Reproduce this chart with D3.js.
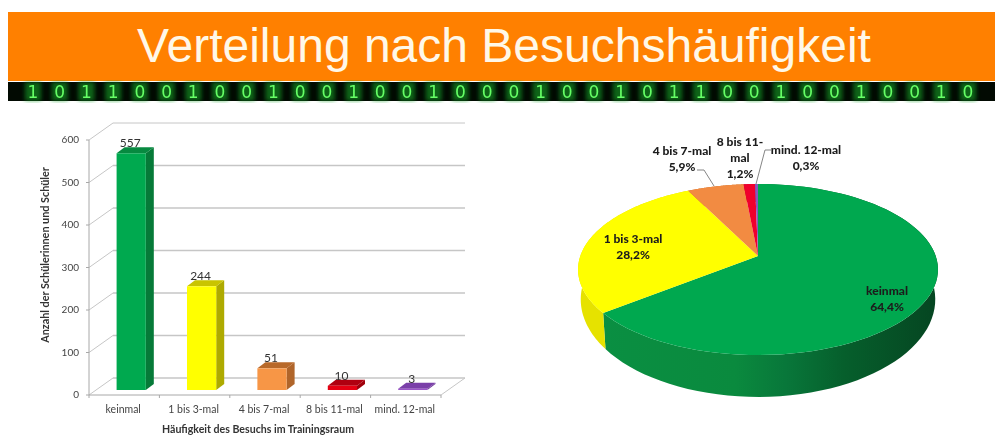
<!DOCTYPE html>
<html><head><meta charset="utf-8">
<script src="https://cdn.jsdelivr.net/npm/d3@7"></script>
<style>
html,body{margin:0;padding:0;background:#fff;overflow:hidden}
svg{display:block;filter:blur(.7px)}
</style></head><body>
<svg id="c" width="995" height="435"></svg>
<script>
const titleText = "Verteilung nach Besuchshäufigkeit";
const binaryDigits = [1,0,1,1,0,0,1,0,0,1,0,0,1,0,0,1,0,0,0,1,0,0,1,0,1,1,0,0,1,0,0,1,0,0,1,0];
const categories = ["keinmal","1 bis 3-mal","4 bis 7-mal","8 bis 11-mal","mind. 12-mal"];
const counts = [557,244,51,10,3];
const shares = [64.4,28.2,5.9,1.2,0.3];
const shareLabels = ["64,4%","28,2%","5,9%","1,2%","0,3%"];
const yTicks = [0,100,200,300,400,500,600];
const yAxisTitle = "Anzahl der Schülerinnen und Schüler";
const xAxisTitle = "Häufigkeit des Besuchs im Trainingsraum";

const frontColors = ["#00a94f","#ffff00","#f79646","#e60012","#9b55c8"];
const topColors   = ["#078a40","#c9c400","#b8692a","#b00010","#7a3fa8"];
const sideColors  = ["#067a38","#aeaa00","#b0652a","#a0000c","#6f3a9a"];
const pieColors   = ["#00a84f","#ffff00","#f28b42","#f0002c","#8a55c0"];

const svg = d3.select("#c");
const defs = svg.append("defs");
const font = "Lato, 'Open Sans', sans-serif";

/* banner */
svg.append("rect").attr("x",8).attr("y",12).attr("width",987).attr("height",69).attr("fill","#ff8000");
svg.append("text").attr("x",504).attr("y",62).attr("text-anchor","middle")
  .attr("font-family","'Liberation Sans',Arial,sans-serif").attr("font-size",48)
  .attr("fill","#fff8e8").text(titleText);
svg.append("rect").attr("x",8).attr("y",82).attr("width",987).attr("height",19).attr("fill","#020a02");
const xDigit = d3.scaleLinear().domain([0,binaryDigits.length-1]).range([33,968]);
const glow = defs.append("filter").attr("id","glow").attr("x","-60%").attr("width","220%");
glow.append("feGaussianBlur").attr("stdDeviation",2.2);
svg.append("g").selectAll("rect").data(binaryDigits).join("rect")
  .attr("x",(d,i)=>xDigit(i)-8).attr("y",82).attr("width",16).attr("height",19)
  .attr("fill","#12a028").attr("opacity",.6).attr("filter","url(#glow)");
svg.append("g").selectAll("text").data(binaryDigits).join("text")
  .attr("x",(d,i)=>xDigit(i)).attr("y",97.5).attr("text-anchor","middle")
  .attr("font-family","'DejaVu Sans',sans-serif").attr("font-size",17)
  .attr("fill","#66ff66").text(d=>d);

/* 3D column chart */
const wall = {dx:24, dy:-17};
const barDepth = {dx:8, dy:-6};
const barInset = {dx:7, dy:-5};
const y = d3.scaleLinear().domain([0,600]).range([395,140]);
const x = d3.scaleBand().domain(categories).range([89,441]).paddingInner(.585).paddingOuter(.2925);
const xOuter = d3.scaleBand().domain(categories).range([89,441]);
const chart = svg.append("g");
const gridCol = "#c6c6c6";

chart.selectAll(".grid").data(yTicks).join("line")
  .attr("x1",xOuter.range()[0]+wall.dx).attr("x2",xOuter.range()[1]+wall.dx)
  .attr("y1",d=>y(d)+wall.dy).attr("y2",d=>y(d)+wall.dy)
  .attr("stroke",gridCol).attr("stroke-width",d=>d===600?1:1.4);
chart.selectAll(".diag").data(yTicks).join("line")
  .attr("x1",89).attr("x2",89+wall.dx)
  .attr("y1",d=>y(d)).attr("y2",d=>y(d)+wall.dy)
  .attr("stroke",gridCol);
chart.append("line").attr("x1",89).attr("x2",89).attr("y1",y(600)).attr("y2",y(0)).attr("stroke","#a8a8a8");
chart.append("line").attr("x1",89).attr("x2",441).attr("y1",y(0)).attr("y2",y(0)).attr("stroke","#a8a8a8");
chart.append("line").attr("x1",441).attr("x2",441+wall.dx).attr("y1",y(0)).attr("y2",y(0)+wall.dy).attr("stroke",gridCol);
chart.selectAll(".ytick").data(yTicks).join("line")
  .attr("x1",86).attr("x2",89).attr("y1",d=>y(d)).attr("y2",d=>y(d)).attr("stroke","#a8a8a8");
chart.selectAll(".xtick").data(d3.range(categories.length+1)).join("line")
  .attr("x1",i=>89+i*xOuter.step()).attr("x2",i=>89+i*xOuter.step())
  .attr("y1",395).attr("y2",398).attr("stroke","#a8a8a8");
chart.selectAll(".ylab").data(yTicks).join("text")
  .attr("x",79).attr("y",d=>y(d)+3).attr("text-anchor","end")
  .attr("font-family",font).attr("font-size",10).attr("fill","#444").text(d=>d);
chart.selectAll(".xlab").data(categories).join("text")
  .attr("x",d=>xOuter(d)+xOuter.bandwidth()/2-1).attr("y",413).attr("text-anchor","middle")
  .attr("font-family",font).attr("font-size",10.5).attr("fill","#444").text(d=>d);
chart.append("text").attr("x",258).attr("y",433).attr("text-anchor","middle")
  .attr("font-family",font).attr("font-size",10.6).attr("font-weight",700).attr("fill","#333").text(xAxisTitle);
chart.append("text").attr("transform","translate(49,255) rotate(-90)").attr("text-anchor","middle")
  .attr("font-family",font).attr("font-size",10.8).attr("font-weight",700).attr("fill","#333").text(yAxisTitle);

const bars = chart.selectAll(".bar").data(counts.map((v,i)=>({v,i,c:categories[i]}))).join("g");
bars.each(function(d){
  const g = d3.select(this);
  const x0 = x(d.c)+barInset.dx, x1 = x0+x.bandwidth();
  const yt = y(d.v)+barInset.dy, yb = y(0)+barInset.dy;
  const D = barDepth;
  const poly = pts => pts.map(p=>p.join(",")).join(" ");
  g.append("polygon").attr("points",poly([[x1,yt],[x1+D.dx,yt+D.dy],[x1+D.dx,yb+D.dy],[x1,yb]])).attr("fill",sideColors[d.i]);
  g.append("polygon").attr("points",poly([[x0,yt],[x0+D.dx,yt+D.dy],[x1+D.dx,yt+D.dy],[x1,yt]])).attr("fill",topColors[d.i]);
  g.append("rect").attr("x",x0).attr("y",yt).attr("width",x1-x0).attr("height",yb-yt).attr("fill",frontColors[d.i]);
  g.append("text").attr("x",(x0+x1)/2-1).attr("y",yt-6).attr("text-anchor","middle")
    .attr("font-family",font).attr("font-size",12).attr("fill","#333").text(d.v);
});

/* 3D pie: d3.pie angles mapped through a perspective projection of the disc */
const P = {cx:758, cy:256, a:177.7, b:83.4, k:.158};
const top2d = t => { const u=Math.sin(t), v=Math.cos(t), w=1+P.k*v;
  return [P.cx+P.a*u/w, P.cy-P.b*v/w]; };
const bot2d = t => { const [X,Y]=top2d(t);
  return [P.cx+(X-P.cx)*.985, P.cy+(Y-P.cy)*1.14+28]; };
const arcs = d3.pie().sort(null).value(d=>d)(shares);
const samples = (a0,a1,n=80) => d3.range(n+1).map(i=>a0+(a1-a0)*i/n);
const line = d3.line();

const grad = defs.append("linearGradient").attr("id","greenSide").attr("gradientUnits","userSpaceOnUse")
  .attr("x1",600).attr("x2",938).attr("y1",0).attr("y2",0);
[[0,"#0a8f42"],[.4,"#0a8a3e"],[.55,"#08773a"],[.72,"#065f2c"],[1,"#054521"]]
  .forEach(([o,c])=>grad.append("stop").attr("offset",o).attr("stop-color",c));
const sideFill = ["url(#greenSide)","#e6e200","#c9722f","#b80020","#6f3a9a"];

const pie = svg.append("g");
pie.selectAll(".side").data(arcs).join("path")
  .attr("d",d=>{ const s=samples(d.startAngle,d.endAngle);
    return line([...s.map(top2d),...s.slice().reverse().map(bot2d)])+"Z"; })
  .attr("fill",(d,i)=>sideFill[i]);
pie.selectAll(".slice").data(arcs).join("path")
  .attr("d",d=>line([[P.cx,P.cy],...samples(d.startAngle,d.endAngle).map(top2d)])+"Z")
  .attr("fill",(d,i)=>pieColors[i]);

/* pie labels */
const labelLayout = [
  {x:887,y:295,lines:["keinmal"]},
  {x:633,y:243,lines:["1 bis 3-mal"]},
  {x:682,y:155,lines:["4 bis 7-mal"]},
  {x:740,y:146,lines:["8 bis 11-","mal"]},
  {x:806,y:154,lines:["mind. 12-mal"]}
];
labelLayout.forEach((l,i)=>{
  const t = svg.append("text").attr("text-anchor","middle")
    .attr("font-family",font).attr("font-size",12).attr("font-weight",900).attr("fill","#1c1c1c");
  [...l.lines,shareLabels[i]].forEach((s,j)=>
    t.append("tspan").attr("x",l.x).attr("y",l.y+j*15.8).text(s));
});
const leaders = [
  [[697,170],[704,170],[714,186]],
  [[771,150],[765,150],[756,184]]
];
svg.selectAll(".leader").data(leaders).join("path")
  .attr("d",d=>line(d)).attr("fill","none").attr("stroke","#777").attr("stroke-width",.9);
</script>
</body></html>
